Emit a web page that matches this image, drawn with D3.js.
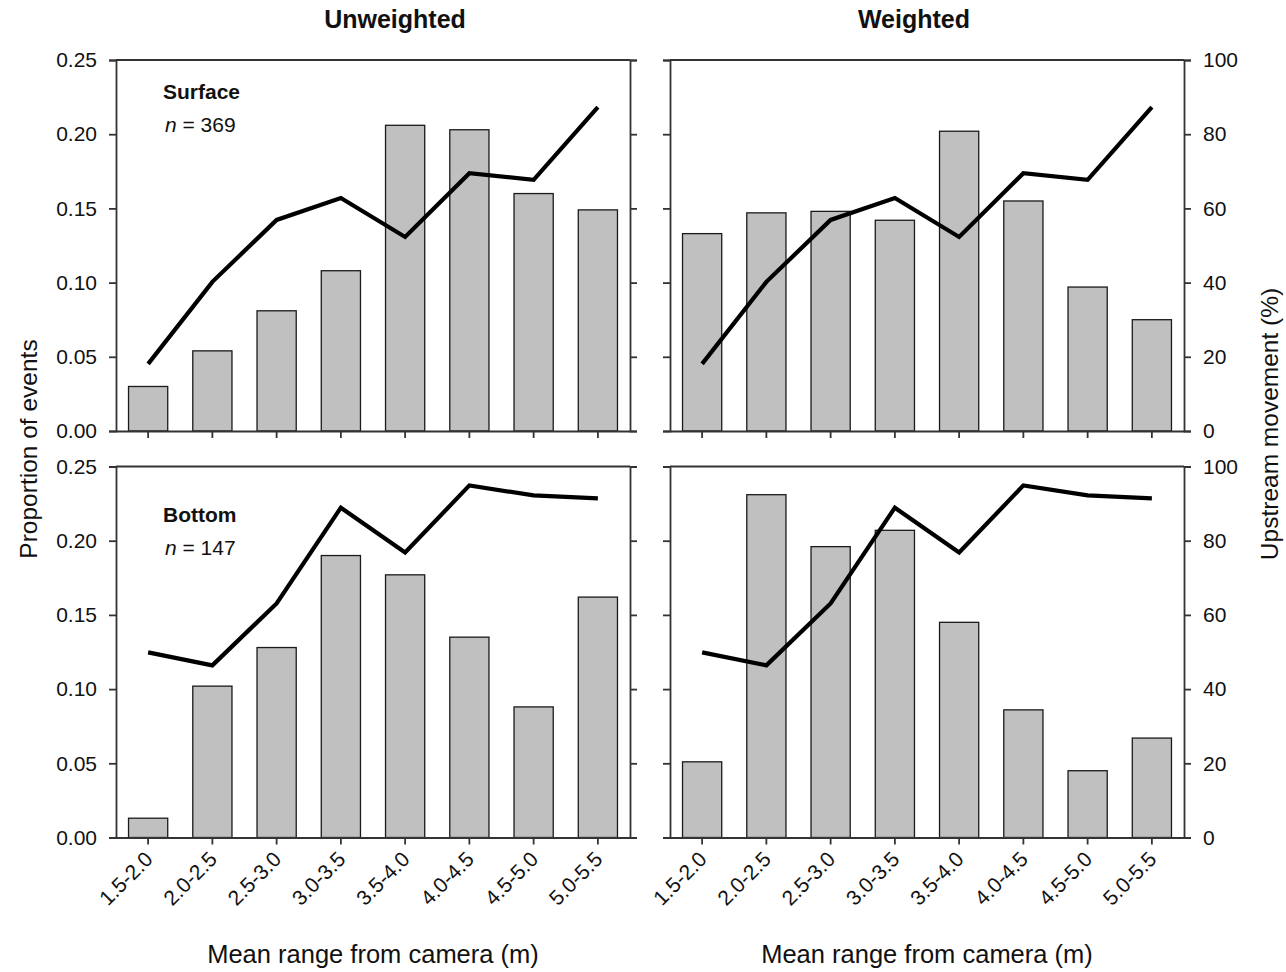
<!DOCTYPE html>
<html>
<head>
<meta charset="utf-8">
<script src="https://cdn.jsdelivr.net/npm/d3@7"></script>
<style>
  body { margin: 0; background: #fff; }
  text { font-family: "Liberation Sans", Arial, sans-serif; fill: #111; }
</style>
</head>
<body>
<svg id="chart" width="1286" height="972"></svg>
<script>
const categories = ["1.5-2.0","2.0-2.5","2.5-3.0","3.0-3.5","3.5-4.0","4.0-4.5","4.5-5.0","5.0-5.5"];
const propUnweightedSurface = [0.030, 0.054, 0.081, 0.108, 0.206, 0.203, 0.160, 0.149];
const propWeightedSurface   = [0.133, 0.147, 0.148, 0.142, 0.202, 0.155, 0.097, 0.075];
const propUnweightedBottom  = [0.013, 0.102, 0.128, 0.190, 0.177, 0.135, 0.088, 0.162];
const propWeightedBottom    = [0.051, 0.231, 0.196, 0.207, 0.145, 0.086, 0.045, 0.067];
const upstreamSurface = [18.1, 40.2, 56.9, 62.8, 52.3, 69.5, 67.7, 87.3];
const upstreamBottom  = [49.9, 46.4, 63.1, 88.9, 76.8, 94.9, 92.2, 91.4];
const leftTicks = [0, 0.05, 0.10, 0.15, 0.20, 0.25];
const rightTicks = [0, 20, 40, 60, 80, 100];
const columnTitles = ["Unweighted", "Weighted"];
const rowLabels = ["Surface", "Bottom"];
const rowN = [369, 147];

const panels = [
  {row:0, col:0, bars:propUnweightedSurface, line:upstreamSurface},
  {row:0, col:1, bars:propWeightedSurface,   line:upstreamSurface},
  {row:1, col:0, bars:propUnweightedBottom,  line:upstreamBottom},
  {row:1, col:1, bars:propWeightedBottom,    line:upstreamBottom}
];

const svg = d3.select("#chart");
const colX = [116, 670];
const rowY = [60, 466.5];
const W = 514, H = 371;
const axisColor = "#333";

function styleAxis(g) {
  g.selectAll("path").attr("stroke", axisColor).attr("stroke-width", 1.8);
  g.selectAll("line").attr("stroke", axisColor).attr("stroke-width", 1.8);
  g.selectAll("text").style("font-size", "21px").attr("fill", "#111")
    .style("font-family", "'Liberation Sans', Arial, sans-serif");
}

panels.forEach(p => {
  const g = svg.append("g").attr("transform", `translate(${colX[p.col]},${rowY[p.row]})`);
  const x = d3.scaleBand().domain(categories).range([0, W]).paddingInner(0.39).paddingOuter(0.195);
  const y = d3.scaleLinear().domain([0, 0.25]).range([H, 0]);
  const yR = d3.scaleLinear().domain([0, 100]).range([H, 0]);

  // bars
  g.selectAll("rect.bar").data(p.bars).join("rect")
    .attr("class", "bar")
    .attr("x", (d, i) => x(categories[i]))
    .attr("width", x.bandwidth())
    .attr("y", d => y(d))
    .attr("height", d => H - y(d))
    .attr("fill", "#c0c0c0")
    .attr("stroke", "#1a1a1a")
    .attr("stroke-width", 1.3);

  // line
  const line = d3.line()
    .x((d, i) => x(categories[i]) + x.bandwidth() / 2)
    .y(d => yR(d));
  g.append("path").datum(p.line)
    .attr("d", line)
    .attr("fill", "none")
    .attr("stroke", "#000")
    .attr("stroke-width", 4.2)
    .attr("stroke-linejoin", "miter");

  // left axis
  const la = g.append("g").call(d3.axisLeft(y).tickValues(leftTicks).tickSize(7).tickPadding(12)
    .tickFormat(p.col === 0 ? d3.format(".2f") : () => ""));
  styleAxis(la);
  // right axis
  const ra = g.append("g").attr("transform", `translate(${W},0)`)
    .call(d3.axisRight(yR).tickValues(rightTicks).tickSize(7).tickPadding(12)
    .tickFormat(p.col === 1 ? d3.format("d") : () => ""));
  styleAxis(ra);
  // top border
  g.append("line").attr("x1", 0).attr("x2", W).attr("y1", 0).attr("y2", 0)
    .attr("stroke", axisColor).attr("stroke-width", 1.8);
  // bottom axis
  const ba = g.append("g").attr("transform", `translate(0,${H})`)
    .call(d3.axisBottom(x).tickSize(7).tickSizeOuter(0).tickFormat(p.row === 1 ? d => d : () => ""));
  styleAxis(ba);
  if (p.row === 1) {
    ba.selectAll("text")
      .attr("text-anchor", "end")
      .attr("y", 0).attr("dy", 0)
      .attr("transform", "translate(6,23) rotate(-45)");
  }

  // annotations
  if (p.col === 0) {
    const labY = p.row === 0 ? 99 - rowY[0] : 522 - rowY[1];
    g.append("text").attr("x", 47).attr("y", labY)
      .style("font-size", "21px").style("font-weight", "bold").text(rowLabels[p.row]);
    const t = g.append("text").attr("x", 49).attr("y", labY + 33).style("font-size", "21px");
    t.append("tspan").style("font-style", "italic").text("n");
    t.append("tspan").text(" = " + rowN[p.row]);
  }
});

// column titles
[395, 914].forEach((cx, i) => {
  svg.append("text").attr("x", cx).attr("y", 28).attr("text-anchor", "middle")
    .style("font-size", "25px").style("font-weight", "bold").text(columnTitles[i]);
});
// x axis titles
[373, 927].forEach(cx => {
  svg.append("text").attr("x", cx).attr("y", 963).attr("text-anchor", "middle")
    .style("font-size", "25.5px").text("Mean range from camera (m)");
});
// y axis titles
svg.append("text").attr("transform", "translate(37,449) rotate(-90)").attr("text-anchor", "middle")
  .style("font-size", "24.5px").text("Proportion of events");
svg.append("text").attr("transform", "translate(1278,424) rotate(-90)").attr("text-anchor", "middle")
  .style("font-size", "24.5px").text("Upstream movement (%)");
</script>
</body>
</html>
